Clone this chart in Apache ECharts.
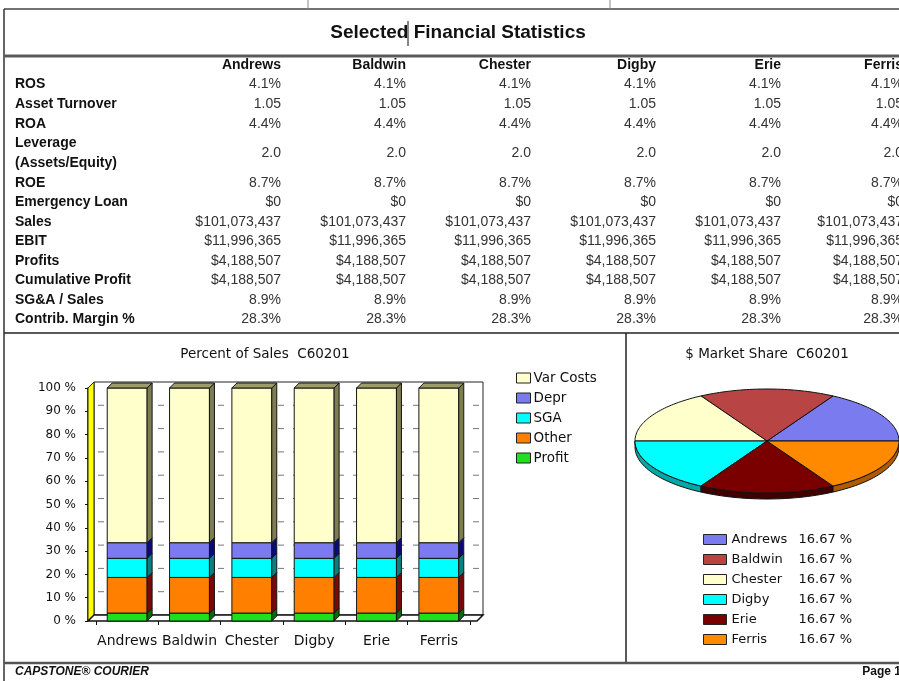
<!DOCTYPE html>
<html><head><meta charset="utf-8">
<script src="https://cdn.jsdelivr.net/npm/echarts@6.0.0/dist/echarts.min.js"></script>
<style>html,body{margin:0;padding:0;background:#fff}#c{width:899px;height:681px}</style>
</head><body><div id="c"></div>
<script>
// ---------- DATA ----------
const companies = ['Andrews', 'Baldwin', 'Chester', 'Digby', 'Erie', 'Ferris'];
const rowLabels = ['ROS', 'Asset Turnover', 'ROA', 'Leverage\n(Assets/Equity)', 'ROE', 'Emergency Loan',
  'Sales', 'EBIT', 'Profits', 'Cumulative Profit', 'SG&A / Sales', 'Contrib. Margin %'];
const ros = ['4.1%', '4.1%', '4.1%', '4.1%', '4.1%', '4.1%'];
const assetTurnover = ['1.05', '1.05', '1.05', '1.05', '1.05', '1.05'];
const roa = ['4.4%', '4.4%', '4.4%', '4.4%', '4.4%', '4.4%'];
const leverage = ['2.0', '2.0', '2.0', '2.0', '2.0', '2.0'];
const roe = ['8.7%', '8.7%', '8.7%', '8.7%', '8.7%', '8.7%'];
const emergencyLoan = ['$0', '$0', '$0', '$0', '$0', '$0'];
const sales = ['$101,073,437', '$101,073,437', '$101,073,437', '$101,073,437', '$101,073,437', '$101,073,437'];
const ebit = ['$11,996,365', '$11,996,365', '$11,996,365', '$11,996,365', '$11,996,365', '$11,996,365'];
const profits = ['$4,188,507', '$4,188,507', '$4,188,507', '$4,188,507', '$4,188,507', '$4,188,507'];
const cumulativeProfit = ['$4,188,507', '$4,188,507', '$4,188,507', '$4,188,507', '$4,188,507', '$4,188,507'];
const sgaSales = ['8.9%', '8.9%', '8.9%', '8.9%', '8.9%', '8.9%'];
const contribMargin = ['28.3%', '28.3%', '28.3%', '28.3%', '28.3%', '28.3%'];

// Percent of Sales (stack order bottom -> top)
const costNames = ['Profit', 'Other', 'SGA', 'Depr', 'Var Costs'];
const profitPct = [3.4, 3.4, 3.4, 3.4, 3.4, 3.4];
const otherPct = [15.3, 15.3, 15.3, 15.3, 15.3, 15.3];
const sgaPct = [8.2, 8.2, 8.2, 8.2, 8.2, 8.2];
const deprPct = [6.7, 6.7, 6.7, 6.7, 6.7, 6.7];
const varCostPct = [66.4, 66.4, 66.4, 66.4, 66.4, 66.4];
const yTickValues = [0, 10, 20, 30, 40, 50, 60, 70, 80, 90, 100];

// $ Market Share
const marketShare = [16.67, 16.67, 16.67, 16.67, 16.67, 16.67];

// ---------- STYLE ----------
const TF = '"Liberation Sans", Arial, sans-serif';
const CF = '"DejaVu Sans", sans-serif';
const costColors = {
  'Profit': ['#1ee01e', '#0a6a0a'],
  'Other': ['#ff8000', '#7a0808'],
  'SGA': ['#00ffff', '#078080'],
  'Depr': ['#7b7bef', '#0a0a7a'],
  'Var Costs': ['#ffffcc', '#7d7d52']
};
const barTopColor = '#9c9c6c';
const pieColors = ['#7b7bf0', '#b94444', '#ffffcc', '#00ffff', '#7a0000', '#ff8a00'];
const pieRim = ['#4040a0', '#7a2020', '#b0b080', '#00a8a8', '#400000', '#b05a00'];

const tableRows = [ros, assetTurnover, roa, leverage, roe, emergencyLoan, sales, ebit, profits,
  cumulativeProfit, sgaSales, contribMargin];

// ---------- LAYOUT (graphic text/lines) ----------
const graphics = [];
function line(x1, y1, x2, y2, stroke, w) {
  graphics.push({ type: 'line', silent: true, shape: { x1, y1, x2, y2 }, style: { stroke, lineWidth: w } });
}
function text(t, x, y, font, align, fill) {
  graphics.push({ type: 'text', silent: true, style: { text: t, x, y, font, textAlign: align, textVerticalAlign: 'middle', fill: fill || '#111' } });
}
line(4, 9, 899, 9, '#444', 1.5);
line(308, 0, 308, 9, '#888', 1);
line(610, 0, 610, 9, '#888', 1);
line(4, 9, 4, 681, '#333', 1.5);
text('Selected Financial Statistics', 458, 33, 'bold 19px ' + TF, 'center', '#111');
line(408, 21, 408, 46, '#111', 1);
line(4, 56, 899, 56, '#5a5a5a', 3);

const colRight = [281, 406, 531, 656, 781, 903];
const rowY = [84, 104, 124, 153, 183, 202, 222, 241, 261, 280, 300, 319];
companies.forEach((c, j) => text(c, colRight[j], 65, 'bold 14px ' + TF, 'right', '#111'));
rowLabels.forEach((lab, i) => {
  const parts = lab.split('\n');
  parts.forEach((p, k) => text(p, 15, rowY[i] + (k - (parts.length - 1) / 2) * 19.5, 'bold 14px ' + TF, 'left', '#111'));
  tableRows[i].forEach((v, j) => text(v, colRight[j], rowY[i], '14px ' + TF, 'right', '#333'));
});
line(4, 333, 899, 333, '#222', 1.5);
line(626, 333, 626, 663, '#222', 1.5);
line(4, 663, 899, 663, '#555', 2.5);
text('CAPSTONE\u00AE COURIER', 15, 672, 'italic bold 12px ' + TF, 'left', '#111');
text('Page 1', 901, 672, 'bold 12px ' + TF, 'right', '#111');
text('Percent of Sales  C60201', 265, 354, '13.5px ' + CF, 'center', '#111');
text('$ Market Share  C60201', 767, 354, '13.5px ' + CF, 'center', '#111');

// ---------- BAR SERIES (3D look) ----------
const pctArrays = { 'Profit': profitPct, 'Other': otherPct, 'SGA': sgaPct, 'Depr': deprPct, 'Var Costs': varCostPct };
const base = companies.map(() => 0);
const D = 5;
const barSeries = costNames.map((name, k) => {
  const vals = pctArrays[name];
  const data = companies.map((c, i) => { const b = base[i]; base[i] += vals[i]; return [i, b, b + vals[i]]; });
  const [front, side] = costColors[name];
  const isTop = k === costNames.length - 1;
  return {
    type: 'custom', name, coordinateSystem: 'cartesian2d', z: 3, silent: true,
    itemStyle: { color: front },
    encode: { x: 0, y: [1, 2] },
    data,
    renderItem(params, api) {
      const i = api.value(0);
      const p0 = api.coord([i, api.value(1)]);
      const p1 = api.coord([i, api.value(2)]);
      const bw = api.size([1, 0])[0] * 0.64;
      const x = p0[0] - bw / 2, yb = p0[1], yt = p1[1];
      const st = { stroke: '#151515', lineWidth: 1 };
      const ch = [
        { type: 'rect', shape: { x, y: yt, width: bw, height: yb - yt }, style: Object.assign({ fill: front }, st) },
        { type: 'polygon', shape: { points: [[x + bw, yt], [x + bw + D, yt - D], [x + bw + D, yb - D], [x + bw, yb]] }, style: Object.assign({ fill: side }, st) }
      ];
      if (isTop) ch.push({ type: 'polygon', shape: { points: [[x, yt], [x + D, yt - D], [x + bw + D, yt - D], [x + bw, yt]] }, style: Object.assign({ fill: barTopColor }, st) });
      return { type: 'group', children: ch };
    }
  };
});

// frame: back wall, left wall, floor, back gridlines
const frameSeries = {
  type: 'custom', name: 'frame', coordinateSystem: 'cartesian2d', z: 1, silent: true,
  data: [[0, 0]],
  renderItem(params, api) {
    const cs = params.coordSys;
    const fl = cs.x - 8, bl = cs.x - 2, br = cs.x + cs.width + 13, fr = br - 6;
    const ft = cs.y, bt = cs.y - 6, fb = cs.y + cs.height, bb = fb - 6;
    const ch = [
      { type: 'rect', shape: { x: bl, y: bt, width: br - bl, height: bb - bt }, style: { fill: '#fff', stroke: '#222', lineWidth: 1 } }
    ];
    yTickValues.slice(1, -1).forEach(v => {
      const y = api.coord([0, v])[1] - 6;
      ch.push({ type: 'line', shape: { x1: bl + 4, y1: y, x2: br, y2: y }, style: { stroke: '#777', lineWidth: 1, lineDash: [6, 9] } });
    });
    ch.push({ type: 'polygon', shape: { points: [[fl, ft], [bl, bt], [bl, bb], [fl, fb]] }, style: { fill: '#ffff00', stroke: '#222', lineWidth: 1 } });
    ch.push({ type: 'polygon', shape: { points: [[fl, fb], [bl, bb], [br, bb], [fr, fb]] }, style: { fill: '#fff', stroke: '#111', lineWidth: 1.5 } });
    return { type: 'group', children: ch };
  }
};

// ---------- PIE (elliptical, custom) ----------
const total = marketShare.reduce((a, b) => a + b, 0);
let acc = 0;
const PIE = { cx: 767, cy: 441, rx: 132, ry: 52, depth: 6 };
function pt(th, dy) {
  const r = th * Math.PI / 180;
  return [PIE.cx + PIE.rx * Math.cos(r), PIE.cy - PIE.ry * Math.sin(r) + (dy || 0)];
}
const pieSeries = companies.map((name, k) => {
  const s = acc / total; acc += marketShare[k]; const e = acc / total;
  return {
    type: 'custom', name, coordinateSystem: 'none', z: 3, silent: true,
    itemStyle: { color: pieColors[k] },
    data: [[s, e]],
    renderItem(params, api) {
      const a0 = api.value(0) * 360, a1 = api.value(1) * 360;
      const ch = [];
      const r0 = Math.max(a0, 180), r1 = Math.min(a1, 360);
      if (r1 > r0) {
        const top = [], bot = [];
        for (let t = r0; t <= r1 + 0.001; t += (r1 - r0) / 30) { top.push(pt(t)); bot.push(pt(t, PIE.depth)); }
        ch.push({ type: 'polygon', shape: { points: top.concat(bot.reverse()) }, style: { fill: pieRim[k], stroke: '#111', lineWidth: 1 } });
      }
      const pts = [[PIE.cx, PIE.cy]];
      for (let t = a0; t <= a1 + 0.001; t += (a1 - a0) / 40) pts.push(pt(t));
      ch.push({ type: 'polygon', shape: { points: pts }, style: { fill: pieColors[k], stroke: '#111', lineWidth: 1 } });
      return { type: 'group', children: ch };
    }
  };
});

const option = {
  animation: false,
  backgroundColor: '#fff',
  graphic: { elements: graphics },
  grid: { left: 96, top: 388, width: 374, height: 233, containLabel: false },
  xAxis: {
    type: 'category', data: companies,
    axisLine: { show: false },
    axisTick: { show: true, length: 4, interval: 0, lineStyle: { color: '#111' } },
    axisLabel: { margin: 13, interval: 0, fontFamily: CF, fontSize: 14, color: '#111' },
    splitLine: { show: false }
  },
  yAxis: {
    type: 'value', min: 0, max: 100, interval: 10, offset: 8,
    axisLine: { show: true, lineStyle: { color: '#111', width: 1.5 } },
    axisTick: { show: true, length: 3, lineStyle: { color: '#111' } },
    axisLabel: { margin: 12, formatter: '{value} %', fontFamily: CF, fontSize: 12, color: '#111' },
    splitLine: { show: false }
  },
  legend: [
    {
      data: costNames.slice().reverse(), orient: 'vertical', left: 511, top: 366,
      itemWidth: 14, itemHeight: 10, itemGap: 6, icon: 'rect',
      itemStyle: { borderColor: '#222', borderWidth: 1 },
      textStyle: { fontFamily: CF, fontSize: 13.5, color: '#111', padding: [0, 0, 0, -2] },
      selectedMode: false
    },
    {
      data: companies, orient: 'vertical', left: 698, top: 528,
      itemWidth: 23, itemHeight: 10, itemGap: 7, icon: 'rect',
      itemStyle: { borderColor: '#222', borderWidth: 1 },
      selectedMode: false,
      formatter: name => '{n|' + name + '}{v|' + marketShare[companies.indexOf(name)].toFixed(2) + ' %}',
      textStyle: {
        fontFamily: CF, fontSize: 13, color: '#111',
        rich: { n: { width: 67, fontFamily: CF, fontSize: 13, color: '#111' }, v: { fontFamily: CF, fontSize: 13, color: '#111' } }
      }
    }
  ],
  series: [frameSeries].concat(barSeries, pieSeries)
};
const chart = echarts.init(document.getElementById('c'), null, { renderer: 'canvas' });
chart.setOption(option);
</script></body></html>
